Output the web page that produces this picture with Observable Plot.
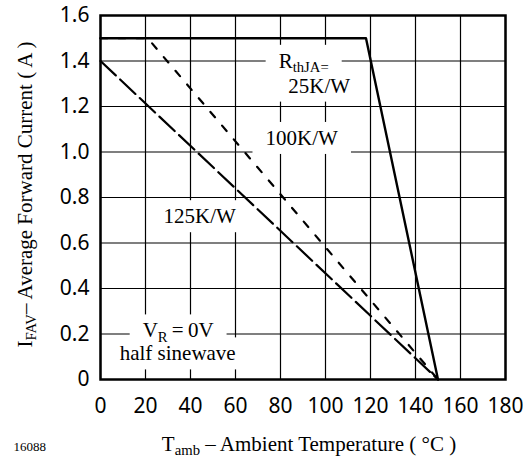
<!DOCTYPE html>
<html><head><meta charset="utf-8">
<script src="https://cdn.jsdelivr.net/npm/d3@7"></script>
<script src="https://cdn.jsdelivr.net/npm/@observablehq/plot@0.6"></script>
<style>
html,body{margin:0;padding:0;background:#fff}
svg{display:block}
</style>
</head><body><div id="chart"></div>
<script>
// ---- data ----
const xTicks = [0, 20, 40, 60, 80, 100, 120, 140, 160, 180];
const yTicks = [0, 0.2, 0.4, 0.6, 0.8, 1.0, 1.2, 1.4, 1.6];

const temp25 = [0, 118, 150];
const curr25 = [1.5, 1.5, 0];
const temp100 = [0, 21, 150];
const curr100 = [1.5, 1.5, 0];
const temp125 = [0, 150];
const curr125 = [1.4, 0];

const labelText = ["R_{thJA=}", "25K/W", "100K/W", "125K/W", "V_{R}\u2009=\u20090V", "half sinewave"];
const labelTemp = [90.3, 97.2, 89.4, 44.1, 34.5, 34.3];
const labelCurr = [1.37, 1.261, 1.031, 0.687, 0.185, 0.084];

const xTitle = "T_{amb} – Ambient Temperature ( °C )";
const yTitle = "I_{FAV}– Average Forward Current ( A )";
const figureId = "16088";

// ---- tables built from arrays ----
const rows = (t, c) => t.map((v, i) => ({t: v, a: c[i]}));
const r25 = rows(temp25, curr25);
const r100 = rows(temp100, curr100);
const r125 = rows(temp125, curr125);
const labels = labelText.map((s, i) => ({s, t: labelTemp[i], a: labelCurr[i]}));

const FS = 21;
const FONT = "Liberation Serif";
const chart = Plot.plot({
  width: 523, height: 458,
  marginLeft: 100, marginRight: 18, marginTop: 15, marginBottom: 79,
  style: {fontSize: FS + "px", background: "white", color: "black"},
  x: {domain: [0, 180], ticks: xTicks, tickSize: 0, tickPadding: 19, label: null, tickFormat: d => String(d), fontFamily: FONT},
  y: {domain: [0, 1.6], ticks: yTicks, tickSize: 0, tickPadding: 11, label: null, tickFormat: d => d === 0 ? "0" : d.toFixed(1), fontFamily: FONT},
  marks: [
    Plot.ruleX(xTicks, {stroke: "black", strokeWidth: 1.2}),
    Plot.ruleY(yTicks, {stroke: "black", strokeWidth: 1.2}),
    Plot.text(labels, {x: "t", y: "a", text: "s", fill: "#fffffe", lineAnchor: "bottom", fontSize: FS, fontFamily: FONT, ariaDescription: "label-bg"}),
    Plot.line(r125, {x: "t", y: "a", stroke: "black", strokeWidth: 2.2, strokeDasharray: "21,6"}),
    Plot.line(r100, {x: "t", y: "a", stroke: "black", strokeWidth: 2.2, strokeDasharray: "7,11"}),
    Plot.line(r25, {x: "t", y: "a", stroke: "black", strokeWidth: 2.4}),
    Plot.text(labels, {x: "t", y: "a", text: "s", fill: "black", lineAnchor: "bottom", fontSize: FS, fontFamily: FONT}),
    Plot.frame({stroke: "black", strokeWidth: 2.5}),
    Plot.text([xTitle], {frameAnchor: "bottom", textAnchor: "middle", dx: 6, dy: 71, lineAnchor: "bottom", fontSize: FS, fontFamily: FONT, fill: "black"}),
    Plot.text([yTitle], {frameAnchor: "left", textAnchor: "middle", rotate: -90, dx: -69, dy: -3, lineAnchor: "bottom", fontSize: FS, fontFamily: FONT, fill: "black"}),
    Plot.text([figureId], {frameAnchor: "bottom-left", dx: -87, dy: 71, lineAnchor: "bottom", textAnchor: "start", fontSize: 13, fontFamily: FONT, fill: "black"})
  ]
});
document.getElementById("chart").append(chart);

// ---- subscripts ----
const NS = "http://www.w3.org/2000/svg";
chart.querySelectorAll("text").forEach(t => {
  const s = t.textContent;
  if (!s.includes("_{")) return;
  const fs = parseFloat(getComputedStyle(t).fontSize) || FS;
  const shift = fs * 0.22;
  t.textContent = "";
  let sub = false;
  const add = (str, isSub) => {
    const ts = document.createElementNS(NS, "tspan");
    ts.textContent = str;
    if (isSub) { ts.setAttribute("font-size", (fs * 0.7).toFixed(1)); }
    if (isSub && !sub) ts.setAttribute("dy", shift);
    if (!isSub && sub) ts.setAttribute("dy", -shift);
    sub = isSub;
    t.appendChild(ts);
  };
  const re = /_\{([^}]*)\}/g; let last = 0, m;
  while ((m = re.exec(s))) {
    if (m.index > last) add(s.slice(last, m.index), false);
    add(m[1], true);
    last = re.lastIndex;
  }
  if (last < s.length) add(s.slice(last), false);
});

// ---- white boxes behind annotation labels (measured from the hidden copy, which is then removed) ----
let bg = chart.querySelector('g[aria-description="label-bg"]');
if (!bg) bg = chart.querySelector('g[fill="#fffffe"]');
if (bg) {
  const padX = 13, padY = 4;
  [...bg.querySelectorAll("text")].forEach(t => {
    const b = t.getBBox();
    const r = document.createElementNS(NS, "rect");
    r.setAttribute("x", b.x - padX);
    r.setAttribute("y", b.y - padY);
    r.setAttribute("width", b.width + 2 * padX);
    r.setAttribute("height", b.height + 2 * padY);
    r.setAttribute("fill", "white");
    r.setAttribute("stroke", "none");
    const tr = t.getAttribute("transform");
    if (tr) r.setAttribute("transform", tr);
    t.parentNode.insertBefore(r, t);
    t.remove();
  });
}
</script>
</body></html>
